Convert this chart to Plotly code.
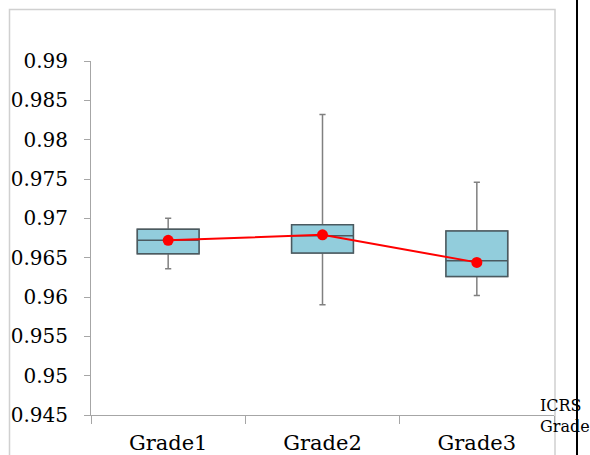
import plotly.graph_objects as go

categories = ["Grade1", "Grade2", "Grade3"]
lower = [0.9636, 0.9590, 0.9602]
q1 = [0.9655, 0.9656, 0.9626]
median = [0.9672, 0.9678, 0.9646]
q3 = [0.9686, 0.9692, 0.9684]
upper = [0.9700, 0.9832, 0.9746]
means = [0.9672, 0.9679, 0.9644]
ytick_vals = [0.945, 0.95, 0.955, 0.96, 0.965, 0.97, 0.975, 0.98, 0.985, 0.99]
ytick_text = ["0.945", "0.95", "0.955", "0.96", "0.965", "0.97", "0.975", "0.98", "0.985", "0.99"]
axis_title = "ICRS<br>Grade"

FONT = "DejaVu Serif"

fig = go.Figure()
# whiskers (gray)
fig.add_trace(go.Box(
    x=categories, q1=q1, median=median, q3=q3,
    lowerfence=lower, upperfence=upper,
    fillcolor="#92CDDC", line=dict(color="#808080", width=1.5),
    width=0.4, whiskerwidth=0.1, boxpoints=False, hoverinfo="skip",
    showlegend=False,
))
# box outline and median (dark)
fig.add_trace(go.Box(
    x=categories, q1=q1, median=median, q3=q3,
    lowerfence=q1, upperfence=q3,
    fillcolor="#92CDDC", line=dict(color="#4A5A60", width=1.5),
    width=0.4, whiskerwidth=0.0, boxpoints=False,
    showlegend=False,
))
fig.add_trace(go.Scatter(
    x=categories, y=means, mode="lines+markers",
    line=dict(color="#FF0000", width=2),
    marker=dict(color="#FF0000", size=11),
    showlegend=False,
))

W, H = 590, 455
L, R, T, B = 91, 36, 61, 40
pw = W - L - R
ph = H - T - B

def px_x(p):
    return (p - L) / pw

def px_y(p):
    return (H - B - p) / ph

fig.update_layout(
    width=W, height=H,
    margin=dict(l=L, r=R, t=T, b=B, pad=0, autoexpand=False),
    paper_bgcolor="white", plot_bgcolor="white",
    boxmode="overlay",
    font=dict(family=FONT, size=20, color="black"),
    xaxis=dict(
        type="category", range=[-0.5, 2.5], automargin=False,
        showline=True, linecolor="#A6A6A6", linewidth=1,
        ticks="outside", ticklen=8, tickcolor="#A6A6A6", tickson="boundaries",
        showgrid=False, zeroline=False,
        tickfont=dict(family=FONT, size=21, color="black"),
        ticklabelstandoff=9,
    ),
    yaxis=dict(
        range=[0.945, 0.99], automargin=False,
        tickvals=ytick_vals, ticktext=ytick_text,
        showline=True, linecolor="#A6A6A6", linewidth=1,
        ticks="outside", ticklen=6, tickcolor="#A6A6A6",
        showgrid=False, zeroline=False,
        tickfont=dict(family=FONT, size=20, color="black"),
        ticklabelstandoff=12,
    ),
    shapes=[
        dict(type="rect", xref="paper", yref="paper",
             x0=px_x(9.5), x1=px_x(555), y0=px_y(470), y1=px_y(9.5),
             line=dict(color="#D0D0D0", width=1.5), layer="below"),
    ],
    annotations=[
        dict(text=axis_title, xref="paper", yref="paper",
             x=px_x(538), y=px_y(394), xanchor="left", yanchor="top",
             showarrow=False, align="left",
             font=dict(family=FONT, size=16, color="black")),
        dict(text=" ", xref="paper", yref="paper",
             x=px_x(576), y=px_y(-5), xanchor="left", yanchor="top",
             showarrow=False, width=2, height=470, bgcolor="black",
             borderpad=0, borderwidth=0,
             font=dict(size=1)),
    ],
)

fig.write_html("out.html")
